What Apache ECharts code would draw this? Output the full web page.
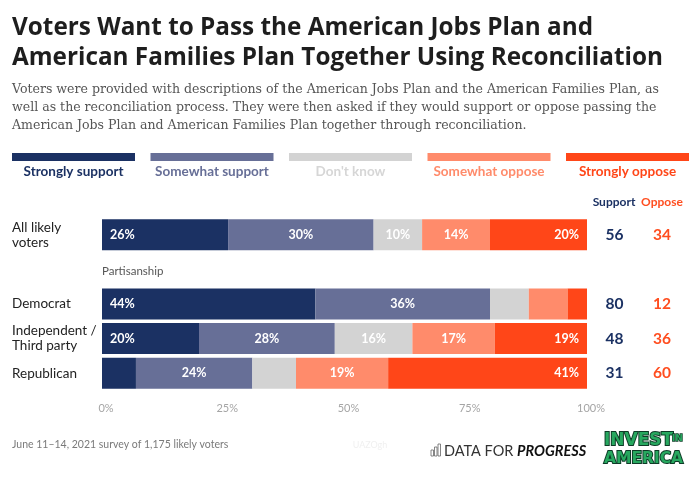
<!DOCTYPE html>
<html>
<head>
<meta charset="utf-8">
<script src="https://cdn.jsdelivr.net/npm/echarts@6/dist/echarts.min.js"></script>
<style>
html,body{margin:0;padding:0;background:#fff;}
#chart{width:700px;height:477px;}
</style>
</head>
<body>
<div id="chart"></div>
<script>
const categories = ['All likely\nvoters', '', 'Democrat', 'Independent /\nThird party', 'Republican'];
const seriesNames = ['Strongly support', 'Somewhat support', "Don't know", 'Somewhat oppose', 'Strongly oppose'];
const stronglySupport = [26, null, 44, 20, 7];
const somewhatSupport = [30, null, 36, 28, 24];
const dontKnow       = [10, null, 8, 16, 9];
const somewhatOppose = [14, null, 8, 17, 19];
const stronglyOppose = [20, null, 4, 19, 41];
const supportTotals = [56, '', 80, 48, 31];
const opposeTotals  = [34, '', 12, 36, 60];
const xTicks = [0, 25, 50, 75, 100];

const colors = ['#1b3163', '#676f97', '#d3d3d3', '#ff8b6b', '#ff4618'];
const legendTextColors = ['#1b3163', '#676f97', '#d6d6d6', '#ff8b6b', '#ff4618'];
const seriesData = [stronglySupport, somewhatSupport, dontKnow, somewhatOppose, stronglyOppose];

const FONT = 'Lato, "Open Sans", sans-serif';
const chart = echarts.init(document.getElementById('chart'), null, {renderer: 'canvas'});

const positions = ['insideLeft', 'inside', 'inside', 'inside', 'insideRight'];
const series = seriesNames.map((name, i) => ({
  name: name,
  type: 'bar',
  stack: 'total',
  barWidth: 31,
  data: seriesData[i],
  itemStyle: {color: colors[i]},
  label: {
    show: true,
    position: positions[i],
    distance: 8,
    color: '#fff',
    fontFamily: FONT,
    fontWeight: 'bold',
    fontSize: 12.5,
    formatter: p => (p.value != null && p.value >= 10) ? p.value + '%' : ''
  },
  emphasis: {disabled: true}
}));

// Legend built from series names/colors
const legendGraphics = [];
seriesNames.forEach((name, i) => {
  const x0 = 12 + i * 138.5;
  legendGraphics.push({
    type: 'rect', left: x0, top: 153,
    shape: {width: 123, height: 8},
    style: {fill: colors[i]}
  });
  legendGraphics.push({
    type: 'text', x: x0 + 61.5, y: 172,
    style: {text: name, fill: legendTextColors[i], font: 'bold 13.5px ' + FONT, textAlign: 'center', textVerticalAlign: 'middle'}
  });
});

const option = {
  animation: false,
  backgroundColor: '#ffffff',
  grid: {left: 102, right: 113, top: 217.5, height: 173, containLabel: false},
  xAxis: {
    type: 'value', min: 0, max: 100, interval: 25,
    axisLine: {show: false}, axisTick: {show: false}, splitLine: {show: false},
    axisLabel: {
      color: '#a5a5a5', fontFamily: FONT, fontSize: 11, margin: 12, padding: [0, 0, 0, 8],
      formatter: v => xTicks.includes(v) ? v + '%' : ''
    }
  },
  yAxis: [
    {
      type: 'category', data: categories, inverse: true,
      axisLine: {show: false}, axisTick: {show: false},
      axisLabel: {align: 'left', margin: 90, color: '#222', fontFamily: FONT, fontSize: 13.5, lineHeight: 15}
    },
    {
      type: 'category', data: supportTotals, inverse: true, position: 'right',
      axisLine: {show: false}, axisTick: {show: false},
      axisLabel: {align: 'center', margin: 27.5, color: '#1b3163', fontFamily: FONT, fontWeight: 'bold', fontSize: 15.5}
    },
    {
      type: 'category', data: opposeTotals, inverse: true, position: 'right',
      axisLine: {show: false}, axisTick: {show: false},
      axisLabel: {align: 'center', margin: 75, color: '#ff4e20', fontFamily: FONT, fontWeight: 'bold', fontSize: 15.5}
    }
  ],
  series: series,
  graphic: [
    {type: 'text', left: 12, top: 13.5, style: {text: 'Voters Want to Pass the American Jobs Plan and\nAmerican Families Plan Together Using Reconciliation', fill: '#1e1e1e', font: 'bold 24.3px "Open Sans", sans-serif', lineHeight: 29.5}},
    {type: 'text', left: 12, top: 81, style: {text: 'Voters were provided with descriptions of the American Jobs Plan and the American Families Plan, as\nwell as the reconciliation process. They were then asked if they would support or oppose passing the\nAmerican Jobs Plan and American Families Plan together through reconciliation.', fill: '#555', font: '12.55px "DejaVu Serif", serif', lineHeight: 18}},
    ...legendGraphics,
    {type: 'text', x: 614, y: 202, style: {text: 'Support', fill: '#1b3163', font: 'bold 12px ' + FONT, textAlign: 'center', textVerticalAlign: 'middle'}},
    {type: 'text', x: 662, y: 202, style: {text: 'Oppose', fill: '#ff4e20', font: 'bold 12px ' + FONT, textAlign: 'center', textVerticalAlign: 'middle'}},
    {type: 'text', x: 102, y: 271, style: {text: 'Partisanship', fill: '#555', font: '11.5px ' + FONT, textVerticalAlign: 'middle'}},
    {type: 'text', x: 12, y: 445, style: {text: 'June 11\u201314, 2021 survey of 1,175 likely voters', fill: '#7a7a7a', font: '10.5px ' + FONT, textVerticalAlign: 'middle'}},
    {type: 'text', x: 370, y: 445, style: {text: 'UAZOgh', fill: '#f0f0f0', font: '9px ' + FONT, textAlign: 'center', textVerticalAlign: 'middle'}},
    // Data for Progress logo
    {type: 'rect', shape: {x: 431, y: 450, width: 2.5, height: 6}, style: {fill: 'none', stroke: '#666', lineWidth: 0.8}},
    {type: 'rect', shape: {x: 434.5, y: 447, width: 2.5, height: 9}, style: {fill: 'none', stroke: '#666', lineWidth: 0.8}},
    {type: 'rect', shape: {x: 438, y: 444, width: 2.5, height: 12}, style: {fill: 'none', stroke: '#666', lineWidth: 0.8}},
    {type: 'text', x: 444, y: 451, style: {text: '{a|DATA FOR }{b|PROGRESS}', textVerticalAlign: 'middle', rich: {
      a: {fill: '#333', font: '14.5px ' + FONT},
      b: {fill: '#111', font: 'italic bold 14.5px ' + FONT}
    }}},
    // Invest in America logo
    {type: 'text', x: 604, y: 441, style: {text: 'INVEST', fill: '#27a85f', stroke: '#0e3b27', lineWidth: 2, font: '900 17px "DejaVu Sans", sans-serif', textVerticalAlign: 'middle'}},
    {type: 'text', x: 672, y: 439, style: {text: 'IN', fill: '#27a85f', stroke: '#0e3b27', lineWidth: 1.5, font: '900 9px "DejaVu Sans", sans-serif', textVerticalAlign: 'middle'}},
    {type: 'text', x: 604, y: 459, style: {text: 'AMERICA', fill: '#27a85f', stroke: '#0e3b27', lineWidth: 2, font: '900 15.5px "DejaVu Sans", sans-serif', textVerticalAlign: 'middle'}}
  ]
};
chart.setOption(option);
</script>
</body>
</html>
